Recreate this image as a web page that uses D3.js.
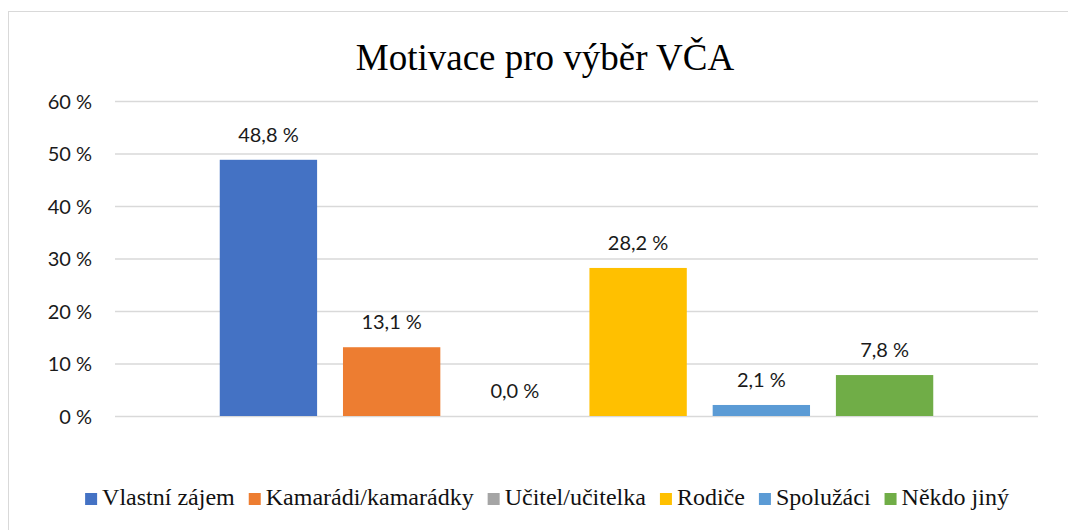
<html>
<head>
  <script src="https://d3js.org/d3.v7.min.js"></script>
  <style>
    body { margin: 0; background: white; }
    .gridlines line { stroke: #d9d9d9; stroke-width: 1.3; }
    .gridlines .domain { stroke: none; }
    .gridlines text { font-family: Lato, "Open Sans", sans-serif; font-size: 20px; fill: #1a1a1a; }
  </style>
</head>
<body>
  <svg id="chart" width="1068" height="530"></svg>
  <script>
    const categories = ["Vlastní zájem", "Kamarádi/kamarádky", "Učitel/učitelka", "Rodiče", "Spolužáci", "Někdo jiný"];
    const values = [48.8, 13.1, 0.0, 28.2, 2.1, 7.8];
    const colors = ["#4472C4", "#ED7D31", "#A5A5A5", "#FFC000", "#5B9BD5", "#70AD47"];
    const yTicks = [0, 10, 20, 30, 40, 50, 60];

    const svg = d3.select("svg#chart");

    // chart frame
    svg.append("rect")
      .attr("x", 8.5).attr("y", 11.5)
      .attr("width", 1074).attr("height", 540)
      .attr("fill", "white")
      .attr("stroke", "#d9d9d9");

    svg.append("text")
      .attr("x", 545).attr("y", 70)
      .attr("text-anchor", "middle")
      .attr("font-family", "'Liberation Serif', 'Times New Roman', serif")
      .attr("font-size", "37px")
      .attr("fill", "#000")
      .text("Motivace pro výběr VČA");

    const plot = { left: 115, right: 1038, top: 101, bottom: 416 };

    const xScale = d3.scaleBand().domain(categories)
      .range([plot.left, plot.right])
      .paddingInner(0.21).paddingOuter(0.85);
    const yScale = d3.scaleLinear().domain([0, 60]).range([plot.bottom, plot.top]);

    let grid = d3.axisLeft(yScale)
      .tickValues(yTicks)
      .tickSize(-(plot.right - plot.left))
      .tickPadding(23)
      .tickFormat(d => d + " %");

    svg.append("g")
      .attr("class", "gridlines")
      .attr("transform", `translate(${plot.left},0)`)
      .call(grid)
      .selectAll("text").attr("dy", "0.35em");

    svg.selectAll("rect.bar").data(categories)
      .join("rect")
      .attr("class", "bar")
      .attr("x", d => xScale(d))
      .attr("width", xScale.bandwidth())
      .attr("y", (d, i) => yScale(values[i]))
      .attr("height", (d, i) => yScale(0) - yScale(values[i]))
      .attr("fill", (d, i) => colors[i]);

    const fmt = v => v.toFixed(1).replace(".", ",") + " %";
    svg.selectAll("text.lbl").data(categories)
      .join("text")
      .attr("class", "lbl")
      .attr("x", d => xScale(d) + xScale.bandwidth() / 2)
      .attr("y", (d, i) => yScale(values[i]) - 18)
      .attr("text-anchor", "middle")
      .attr("font-family", "Lato, 'Open Sans', sans-serif")
      .attr("font-size", "20px")
      .attr("fill", "#1a1a1a")
      .text((d, i) => fmt(values[i]));

    // legend
    const legend = svg.append("g");
    let lx = 0;
    categories.forEach((c, i) => {
      let item = legend.append("g").attr("transform", `translate(${lx},0)`);
      item.append("rect")
        .attr("x", 0).attr("y", -12)
        .attr("width", 12).attr("height", 12)
        .attr("fill", colors[i]);
      let t = item.append("text")
        .attr("x", 17).attr("y", 0)
        .attr("font-family", "'Liberation Serif', 'Times New Roman', serif")
        .attr("font-size", "24px")
        .attr("fill", "#111")
        .text(c);
      lx += 17 + t.node().getComputedTextLength() + 14;
    });
    const legendWidth = lx - 14;
    legend.attr("transform", `translate(${547 - legendWidth / 2},505)`);
  </script>
</body>
</html>
